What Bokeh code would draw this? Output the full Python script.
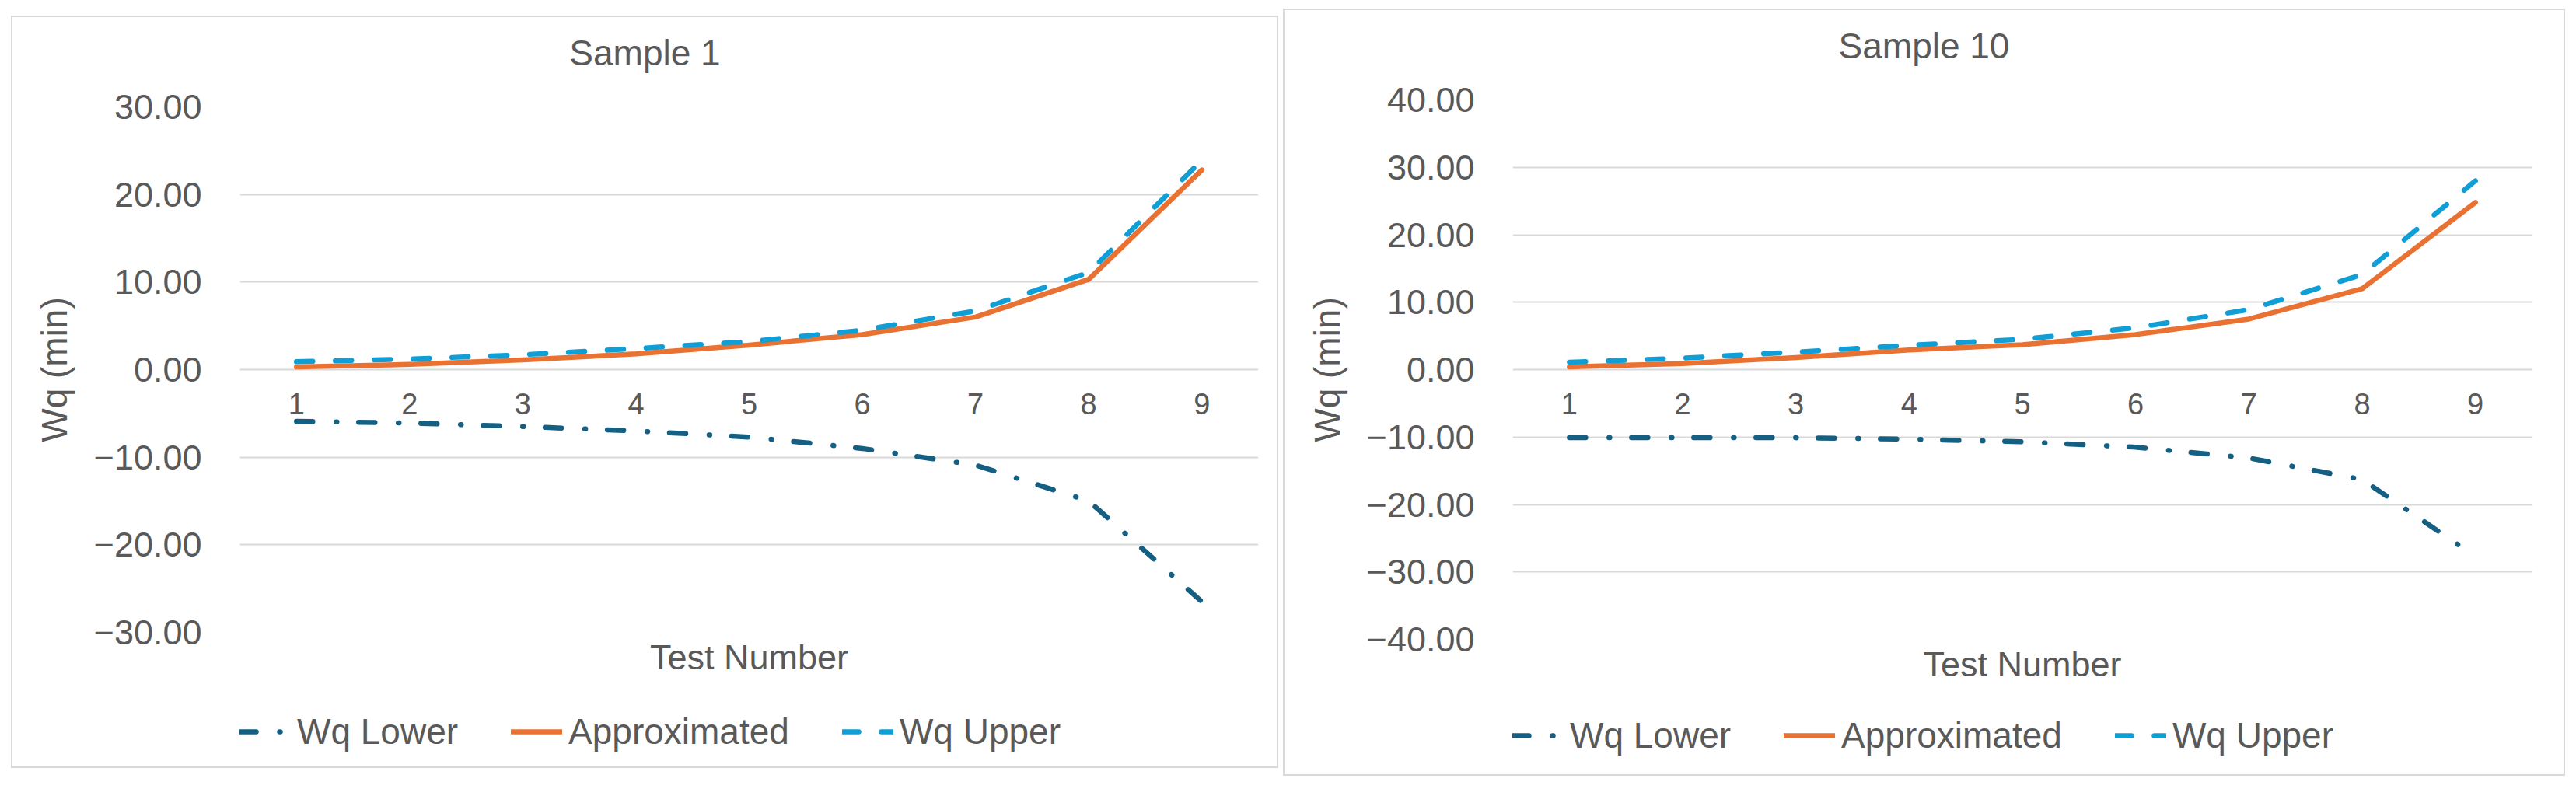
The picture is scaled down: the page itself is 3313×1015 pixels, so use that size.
from bokeh.plotting import figure
from bokeh.models import (Range1d, FactorRange, FixedTicker, CustomJSTickFormatter,
                          Legend, LegendItem, Title, Label, Spacer, Column)
from bokeh.layouts import row, column
from bokeh.embed import file_html
from bokeh.resources import INLINE

# ---------------- data ----------------
tests = ["1", "2", "3", "4", "5", "6", "7", "8", "9"]

s1_lower = [-5.9, -6.1, -6.5, -7.0, -7.7, -9.0, -10.9, -15.0, -26.5]
s1_approx = [0.3, 0.6, 1.1, 1.8, 2.8, 4.0, 6.0, 10.3, 22.8]
s1_upper = [0.9, 1.2, 1.7, 2.4, 3.2, 4.5, 6.7, 11.1, 23.9]

s10_lower = [-10.1, -10.1, -10.1, -10.3, -10.7, -11.5, -13.1, -16.3, -27.7]
s10_approx = [0.4, 0.9, 1.8, 2.9, 3.7, 5.2, 7.5, 12.0, 24.8]
s10_upper = [1.1, 1.7, 2.6, 3.6, 4.5, 6.2, 8.9, 14.1, 28.0]

s1_ticks = [-30, -20, -10, 0, 10, 20, 30]
s10_ticks = [-40, -30, -20, -10, 0, 10, 20, 30, 40]

series_names = ["Wq Lower", "Approximated", "Wq Upper"]

# ---------------- style ----------------
FONT = "Liberation Sans"
TXT = "#595959"
GRID = "#d9d9d9"
COLORS = ["#156082", "#E97132", "#0F9ED5"]
DASHES = ["21 30 1 28", "solid", "21 29"]
LW = 6.5
TITLE_H = 80

fmt_js = "return (tick < 0 ? '\\u2212' : '') + Math.abs(tick).toFixed(2);"


def make_panel(title, series, ticks, width, main_h, leg_h,
               ml, mr, frame_w, title_x, legend_loc):
    # ---- title strip ----
    pt = figure(width=width, height=TITLE_H, x_range=Range1d(0, frame_w),
                y_range=Range1d(0, TITLE_H), x_axis_type=None, y_axis_type=None,
                output_backend="svg", toolbar_location=None, title=None,
                min_border=0)
    pt.outline_line_color = None
    pt.grid.visible = False
    pt.add_layout(Label(x=title_x, y=35, text=title, text_align="center",
                        text_baseline="middle", text_font=FONT,
                        text_font_size="46px", text_color=TXT))

    # ---- main chart ----
    p = figure(x_range=FactorRange(factors=tests),
               y_range=Range1d(ticks[0], ticks[-1]),
               width=width, height=main_h, title=None,
               output_backend="svg", toolbar_location=None,
               min_border_left=ml, min_border_right=mr,
               min_border_top=35, min_border_bottom=76)
    p.outline_line_color = None
    p.background_fill_color = "white"
    p.border_fill_color = "white"

    p.xgrid.grid_line_color = None
    p.ygrid.grid_line_color = GRID
    p.ygrid.grid_line_width = 2
    p.ygrid.ticker = FixedTicker(ticks=ticks)

    yax = p.yaxis[0]
    yax.ticker = FixedTicker(ticks=ticks)
    yax.formatter = CustomJSTickFormatter(code=fmt_js)
    yax.axis_line_color = None
    yax.major_tick_line_color = None
    yax.minor_tick_line_color = None
    yax.major_label_text_font = FONT
    yax.major_label_text_font_size = "45px"
    yax.major_label_text_color = TXT
    yax.major_label_standoff = 43
    yax.axis_label = "Wq (min)"
    yax.axis_label_text_font = FONT
    yax.axis_label_text_font_size = "46px"
    yax.axis_label_text_font_style = "normal"
    yax.axis_label_text_color = TXT
    yax.axis_label_standoff = 22

    xax = p.xaxis[0]
    xax.fixed_location = 0
    xax.axis_line_color = None
    xax.major_tick_line_color = None
    xax.minor_tick_line_color = None
    xax.major_label_text_font = FONT
    xax.major_label_text_font_size = "38px"
    xax.major_label_text_color = TXT
    xax.major_label_standoff = 24

    for vals, color, dash in zip(series, COLORS, DASHES):
        p.line(tests, vals, line_color=color, line_width=LW,
               line_dash=dash, line_cap="round", line_join="round")

    xt = Title(text="Test Number", align="center", text_font=FONT,
               text_font_size="45px", text_font_style="normal",
               text_color=TXT, standoff=8)
    p.add_layout(xt, "below")

    # ---- legend strip: hidden copies of the lines, only swatches shown ----
    pl = figure(width=width, height=leg_h, x_range=FactorRange(factors=tests),
                y_range=Range1d(ticks[0], ticks[-1]),
                x_axis_type=None, y_axis_type=None,
                output_backend="svg", toolbar_location=None, title=None,
                min_border=0)
    pl.outline_line_color = None
    pl.grid.visible = False
    items = []
    for name, vals, color, dash in zip(series_names, series, COLORS, DASHES):
        r = pl.line(tests, vals, line_color=color, line_width=LW,
                    line_dash=dash, line_cap="round", line_join="round")
        r.visible = False
        items.append(LegendItem(label=name, renderers=[r]))
    legend = Legend(items=items, orientation="horizontal", location=legend_loc,
                    label_text_font=FONT, label_text_font_size="46px",
                    label_text_color=TXT, glyph_width=66, glyph_height=20,
                    label_standoff=8, spacing=68, padding=0, margin=0,
                    border_line_color=None, background_fill_alpha=0,
                    inactive_fill_alpha=0)
    pl.add_layout(legend, "center")

    return Column(children=[pt, p, pl], spacing=0,
                  styles={"border": "2px solid #d9d9d9"})


box1 = make_panel("Sample 1", [s1_lower, s1_approx, s1_upper], s1_ticks,
                  width=1626, main_h=867 - TITLE_H, leg_h=97,
                  ml=292, mr=24, frame_w=1310, title_x=521, legend_loc=(0, 18))
box10 = make_panel("Sample 10", [s10_lower, s10_approx, s10_upper], s10_ticks,
                   width=1645, main_h=885 - TITLE_H, leg_h=98,
                   ml=293, mr=41, frame_w=1311, title_x=529, legend_loc=(0, 23))

layout = row(Spacer(width=14),
             column(Spacer(height=20), box1, Spacer(height=10)),
             Spacer(width=6),
             column(Spacer(height=11), box10))
open("out.html", "w").write(file_html(layout, INLINE))
